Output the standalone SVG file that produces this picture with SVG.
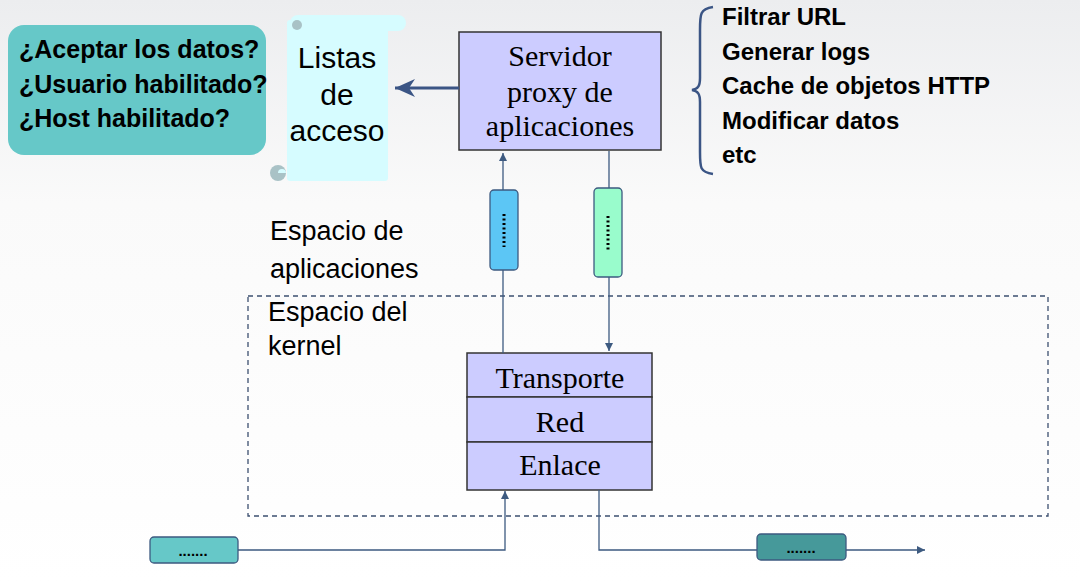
<svg xmlns="http://www.w3.org/2000/svg" width="1080" height="582" viewBox="0 0 1080 582">
<defs>
<linearGradient id="bg" x1="0" y1="0" x2="0" y2="1">
<stop offset="0" stop-color="#ecedef"/>
<stop offset="0.35" stop-color="#fafafa"/>
<stop offset="1" stop-color="#ffffff"/>
</linearGradient>
<marker id="ah" markerWidth="10" markerHeight="10" refX="8" refY="4" orient="auto" markerUnits="userSpaceOnUse">
<path d="M0,0 L8,4 L0,8 Z" fill="#3d5a80"/>
</marker>
<marker id="big" markerWidth="24" markerHeight="20" refX="20" refY="10" orient="auto" markerUnits="userSpaceOnUse">
<path d="M0,1 L20,10 L0,19 L6,10 Z" fill="#3b5585"/>
</marker>
<style>
.sans{font-family:"Liberation Sans",Arial,sans-serif;fill:#000}
.bold{font-weight:bold}
.serif{font-family:"Liberation Serif","Times New Roman",serif;fill:#000}
.box{fill:#ccccff;stroke:#333;stroke-width:1.5}
.ln{fill:none;stroke:#3d5a80;stroke-width:1.3}
.pkt{stroke:#3d5a80;stroke-width:1.3}
.dots{stroke:#000;stroke-width:3;stroke-dasharray:2,2.5}
</style>
</defs>
<rect width="1080" height="582" fill="url(#bg)"/>

<g id="preguntas">
<rect x="8" y="25" width="258" height="130" rx="16" fill="#66c8c8"/>
<text class="sans bold" x="19" y="58" font-size="25">¿Aceptar los datos?</text>
<text class="sans bold" x="19" y="93" font-size="25">¿Usuario habilitado?</text>
<text class="sans bold" x="19" y="127" font-size="25">¿Host habilitado?</text>
</g>

<g id="listas">
<rect x="287" y="20" width="101" height="161" rx="3" fill="#d6fcff"/>
<rect x="290" y="15" width="116" height="16" rx="8" fill="#d6fcff"/>
<circle cx="297" cy="25" r="5" fill="#a9c2c6"/>
<circle cx="278" cy="173" r="8" fill="#a9c2c6"/>
<path d="M278,173 A4,4 0 0 1 286,173 Z" fill="#d6fcff"/>
<text class="sans" x="337" y="68" font-size="30" text-anchor="middle">Listas</text>
<text class="sans" x="337" y="105" font-size="30" text-anchor="middle">de</text>
<text class="sans" x="337" y="141" font-size="30" text-anchor="middle">acceso</text>
</g>

<g id="servidor">
<rect class="box" x="459" y="32" width="202" height="118"/>
<text class="serif" x="560" y="66" font-size="30" text-anchor="middle">Servidor</text>
<text class="serif" x="560" y="102" font-size="30" text-anchor="middle">proxy de</text>
<text class="serif" x="560" y="136" font-size="30" text-anchor="middle">aplicaciones</text>
</g>

<g id="funciones">
<path d="M713,7 C700,9 700,14 700,30 L700,78 C700,86 698,89 692,90 C698,91 700,94 700,102 L700,152 C700,168 700,172 713,174" fill="none" stroke="#3b5585" stroke-width="2.5"/>
<text class="sans bold" x="722" y="25" font-size="24">Filtrar URL</text>
<text class="sans bold" x="722" y="59.5" font-size="24">Generar logs</text>
<text class="sans bold" x="722" y="94" font-size="24">Cache de objetos HTTP</text>
<text class="sans bold" x="722" y="128.5" font-size="24">Modificar datos</text>
<text class="sans bold" x="722" y="163" font-size="24">etc</text>
</g>

<g id="espacios">
<rect x="248" y="296" width="800" height="220" fill="none" stroke="#3d5070" stroke-width="1.3" stroke-dasharray="5,4"/>
<text class="sans" x="270" y="240" font-size="27">Espacio de</text>
<text class="sans" x="270" y="278" font-size="27">aplicaciones</text>
<text class="sans" x="268" y="321" font-size="27">Espacio del</text>
<text class="sans" x="268" y="355" font-size="27">kernel</text>
</g>

<g id="pila">
<rect class="box" x="467" y="353" width="185" height="44"/>
<rect class="box" x="467" y="397" width="185" height="45"/>
<rect class="box" x="467" y="442" width="185" height="48"/>
<text class="serif" x="560" y="388" font-size="30" text-anchor="middle">Transporte</text>
<text class="serif" x="560" y="432" font-size="30" text-anchor="middle">Red</text>
<text class="serif" x="560" y="475" font-size="30" text-anchor="middle">Enlace</text>
</g>

<g id="connectors">
<line x1="459" y1="88" x2="395" y2="88" stroke="#3b5585" stroke-width="3" marker-end="url(#big)"/>
<line class="ln" x1="503" y1="353" x2="503" y2="153" marker-end="url(#ah)"/>
<line class="ln" x1="609" y1="151" x2="609" y2="351" marker-end="url(#ah)"/>
<polyline class="ln" points="238,550 505,550 505,491" marker-end="url(#ah)"/>
<polyline class="ln" points="599,490 599,550 925,550" marker-end="url(#ah)"/>
</g>

<g id="paquete-azul">
<rect class="pkt" x="490" y="190" width="28" height="80" rx="4" fill="#5cc6f5"/>
<line class="dots" x1="504" y1="214" x2="504" y2="247"/>
</g>
<g id="paquete-verde">
<rect class="pkt" x="594" y="188" width="28" height="89" rx="4" fill="#99fccc"/>
<line class="dots" x1="608" y1="216" x2="608" y2="250"/>
</g>
<g id="paquete-entrada">
<rect class="pkt" x="150" y="537" width="88" height="26" rx="4" fill="#66c8c8"/>
<text class="sans bold" x="193" y="556" font-size="15" text-anchor="middle">.......</text>
</g>
<g id="paquete-salida">
<rect class="pkt" x="757" y="534" width="89" height="26" rx="4" fill="#46999a"/>
<text class="sans bold" x="801" y="553" font-size="15" text-anchor="middle">.......</text>
</g>
</svg>
